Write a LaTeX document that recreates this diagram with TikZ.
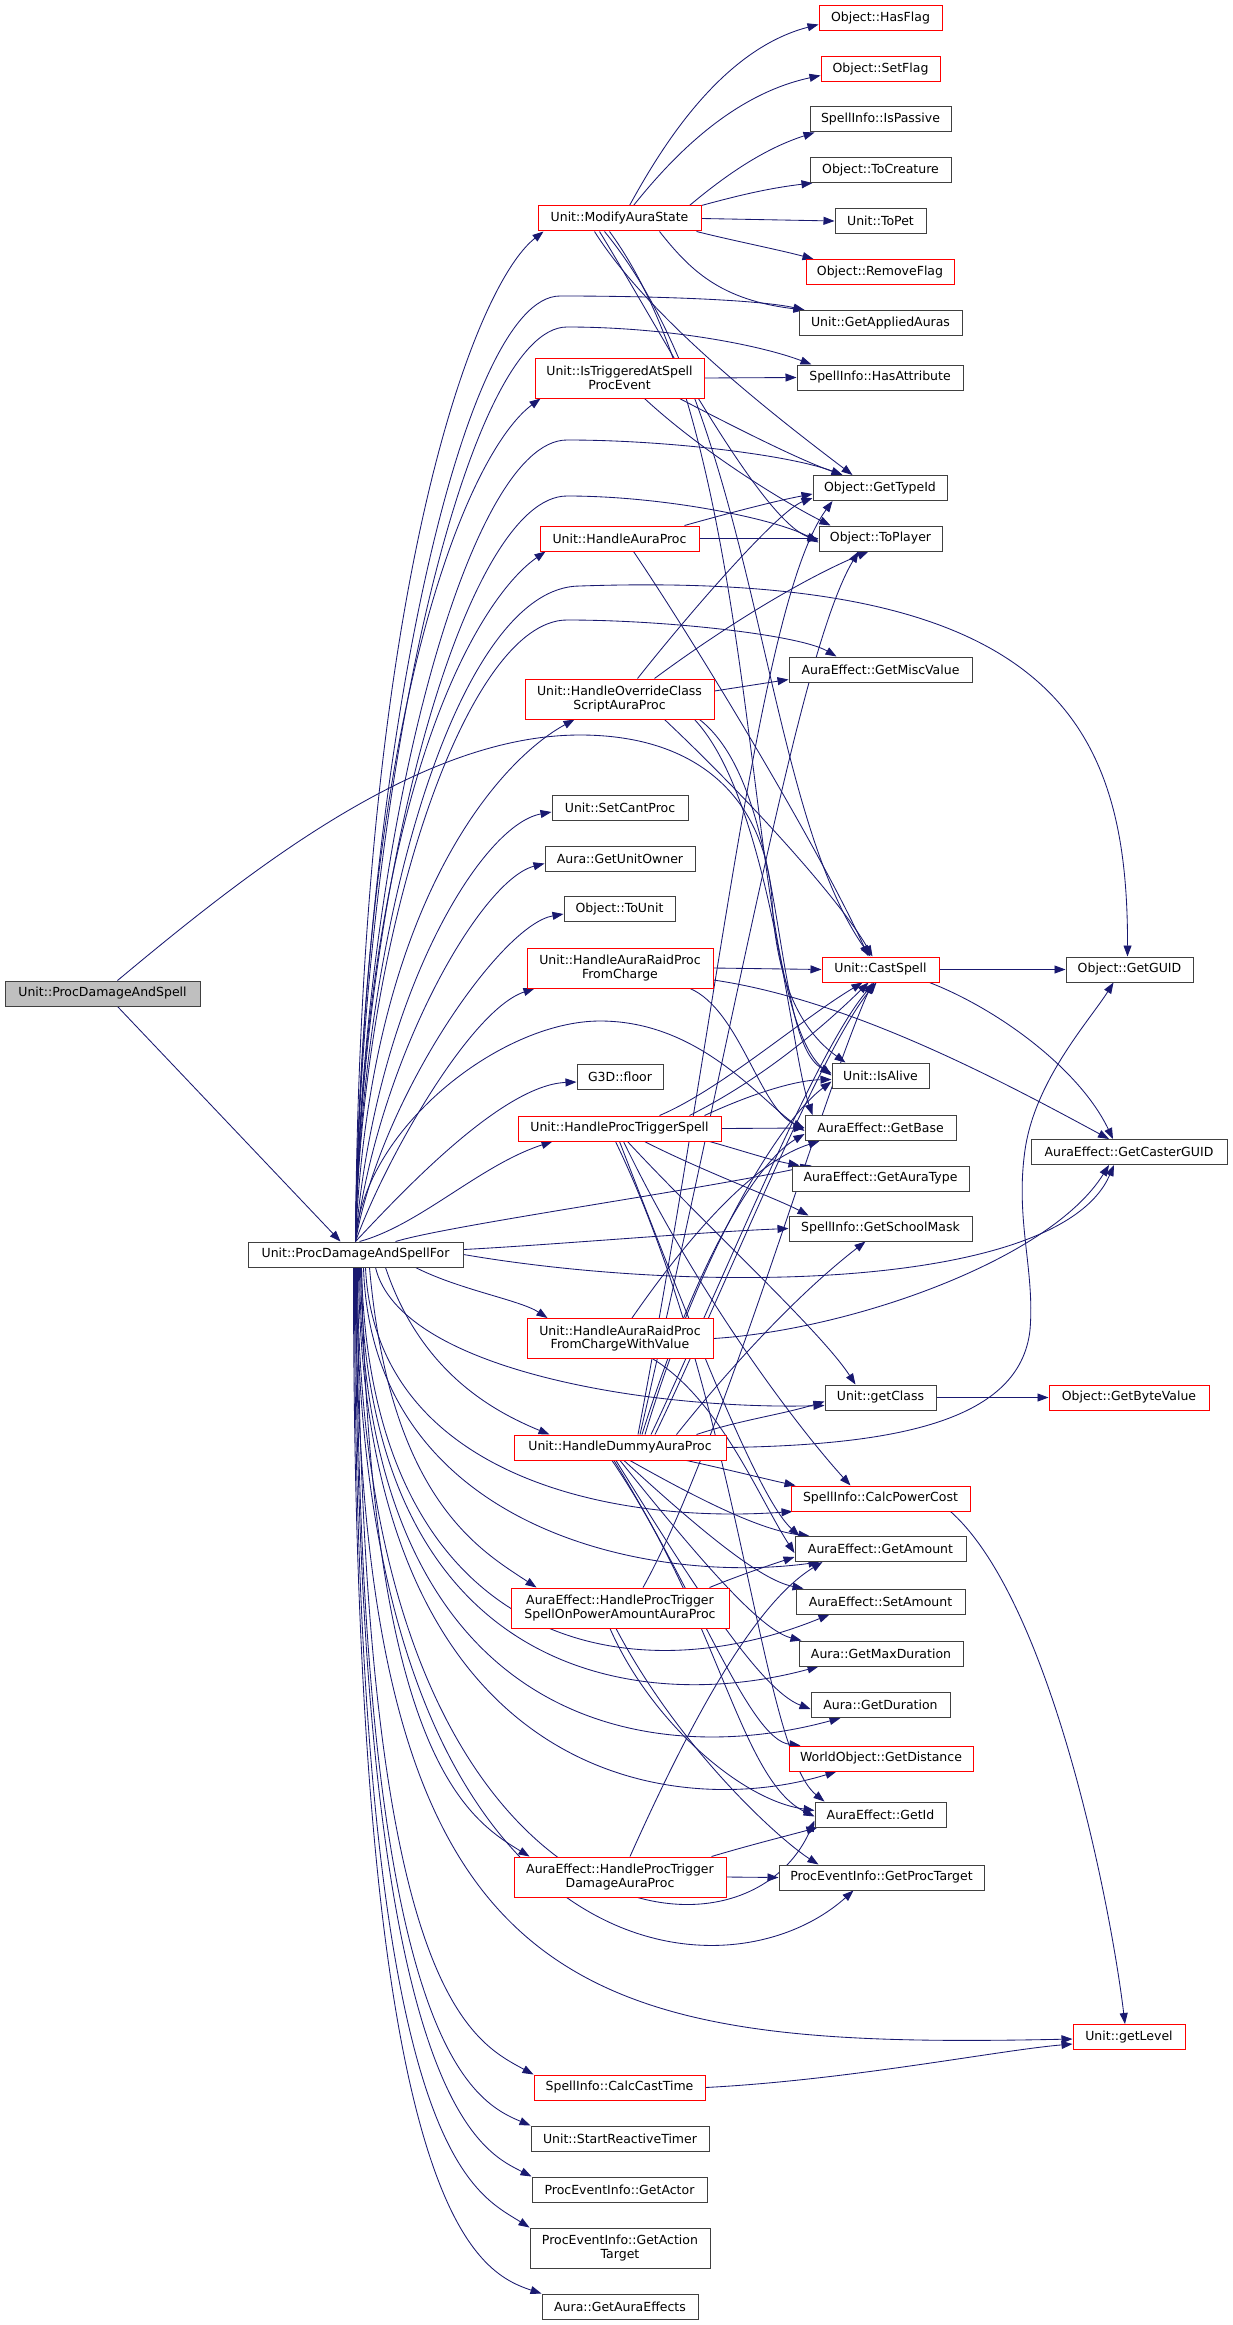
\documentclass[tikz,border=0pt]{standalone}
\usepackage{fontspec}
\setmainfont{DejaVu Sans}
\usetikzlibrary{arrows.meta}
\definecolor{mb}{HTML}{191970}
\definecolor{bd}{HTML}{404040}
\definecolor{rootfill}{HTML}{BFBFBF}
\newcommand\nodefnt{\fontsize{12.5}{13.8}\selectfont}
\pgfdeclarelayer{bglayer}
\pgfdeclarelayer{edgelayer}
\pgfsetlayers{bglayer,edgelayer,main}
\tikzset{
  fn/.style={draw=bd, line width=1pt, fill=white, inner sep=0pt, align=center, font=\nodefnt},
  rfn/.style={fn, draw=red},
  sz/.style 2 args={minimum width=#1pt, minimum height=#2pt},
  edge/.style={draw=mb, line width=0.85pt, -{Triangle[length=11pt,width=8pt]}},
}
\begin{document}
\begin{tikzpicture}[x=1pt,y=-1pt]
\begin{pgfonlayer}{bglayer}
\fill[white] (0,0) rectangle (1232,2325);
\end{pgfonlayer}
\useasboundingbox (0,0) rectangle (1232,2325);
% nodes
\node[fn, fill=rootfill, sz={195}{25}] (R) at (102.5,993.5) {Unit::ProcDamageAndSpell};
\node[fn, sz={215}{25}] (F) at (355.5,1254.5) {Unit::ProcDamageAndSpellFor};
% middle column
\node[rfn, sz={163}{25}] (MAS) at (619.5,218.5) {Unit::ModifyAuraState};
\node[rfn, sz={169}{40}] (IT) at (619.5,378) {Unit::IsTriggeredAtSpell\\ProcEvent};
\node[rfn, sz={159}{25}] (HAP) at (619.5,538.5) {Unit::HandleAuraProc};
\node[rfn, sz={189}{40}] (HOC) at (619.5,699) {Unit::HandleOverrideClass\\ScriptAuraProc};
\node[fn, sz={136}{25}] (SCP) at (620,808) {Unit::SetCantProc};
\node[fn, sz={150}{25}] (GUO) at (620,858.5) {Aura::GetUnitOwner};
\node[fn, sz={111}{25}] (TU) at (619.5,909) {Object::ToUnit};
\node[rfn, sz={186}{40}] (HARPC) at (620,968) {Unit::HandleAuraRaidProc\\FromCharge};
\node[fn, sz={86}{25}] (FL) at (620,1077) {G3D::floor};
\node[rfn, sz={203}{25}] (HPTS) at (619.5,1128.5) {Unit::HandleProcTriggerSpell};
\node[rfn, sz={186}{40}] (HARPW) at (620,1338.5) {Unit::HandleAuraRaidProc\\FromChargeWithValue};
\node[rfn, sz={212}{25}] (HDAP) at (620,1447.5) {Unit::HandleDummyAuraProc};
\node[rfn, sz={218}{40}] (HPOW) at (620,1608) {AuraEffect::HandleProcTrigger\\SpellOnPowerAmountAuraProc};
\node[rfn, sz={212}{40}] (HPTD) at (620,1877) {AuraEffect::HandleProcTrigger\\DamageAuraProc};
\node[rfn, sz={171}{25}] (CCT) at (619.5,2087.5) {SpellInfo::CalcCastTime};
\node[fn, sz={178}{25}] (SRT) at (620,2138.5) {Unit::StartReactiveTimer};
\node[fn, sz={175}{25}] (GA) at (619.5,2189.5) {ProcEventInfo::GetActor};
\node[fn, sz={180}{40}] (GAT) at (620,2248) {ProcEventInfo::GetAction\\Target};
\node[fn, sz={156}{25}] (GAE) at (620,2306.5) {Aura::GetAuraEffects};
% right column
\node[rfn, sz={123}{25}] (HF) at (880.5,18.5) {Object::HasFlag};
\node[rfn, sz={119}{25}] (SF) at (880.5,69.5) {Object::SetFlag};
\node[fn, sz={141}{25}] (IP) at (880.5,119.5) {SpellInfo::IsPassive};
\node[fn, sz={141}{25}] (TC) at (880.5,170) {Object::ToCreature};
\node[fn, sz={91}{25}] (TP) at (880.5,221) {Unit::ToPet};
\node[rfn, sz={148}{25}] (RF) at (880,272) {Object::RemoveFlag};
\node[fn, sz={163}{25}] (GAA) at (880.5,323) {Unit::GetAppliedAuras};
\node[fn, sz={166}{25}] (HA) at (880,377.5) {SpellInfo::HasAttribute};
\node[fn, sz={134}{25}] (GTI) at (880,488) {Object::GetTypeId};
\node[fn, sz={123}{25}] (TPL) at (880.5,538.5) {Object::ToPlayer};
\node[fn, sz={183}{25}] (GMV) at (880.5,669.5) {AuraEffect::GetMiscValue};
\node[rfn, sz={117}{25}] (CS) at (880.5,969.5) {Unit::CastSpell};
\node[fn, sz={97}{25}] (IA) at (880.5,1075.5) {Unit::IsAlive};
\node[fn, sz={151}{25}] (GB) at (880.5,1128) {AuraEffect::GetBase};
\node[fn, sz={177}{25}] (GAT2) at (880.5,1178.5) {AuraEffect::GetAuraType};
\node[fn, sz={183}{25}] (GSM) at (880.5,1228.5) {SpellInfo::GetSchoolMask};
\node[fn, sz={111}{25}] (GC) at (880.5,1397.5) {Unit::getClass};
\node[rfn, sz={179}{25}] (CPC) at (880.5,1498.5) {SpellInfo::CalcPowerCost};
\node[fn, sz={171}{25}] (GAm) at (880.5,1549) {AuraEffect::GetAmount};
\node[fn, sz={169}{25}] (SAm) at (880.5,1601.5) {AuraEffect::SetAmount};
\node[fn, sz={164}{25}] (GMD) at (881,1653.5) {Aura::GetMaxDuration};
\node[fn, sz={139}{25}] (GD) at (880.5,1705) {Aura::GetDuration};
\node[rfn, sz={184}{25}] (GDi) at (881,1758.5) {WorldObject::GetDistance};
\node[fn, sz={131}{25}] (GI) at (880.5,1814.5) {AuraEffect::GetId};
\node[fn, sz={205}{25}] (GPT) at (881.5,1877.5) {ProcEventInfo::GetProcTarget};
% far right
\node[fn, sz={127}{25}] (GG) at (1129.5,969.5) {Object::GetGUID};
\node[fn, sz={196}{25}] (GCG) at (1129,1152) {AuraEffect::GetCasterGUID};
\node[rfn, sz={160}{25}] (GBV) at (1129,1397.5) {Object::GetByteValue};
\node[rfn, sz={112}{25}] (GL) at (1129,2037) {Unit::getLevel};

\begin{pgfonlayer}{edgelayer}
% root
\draw[edge] ([xshift=15pt]R.south) -- ([xshift=-15pt]F.north);
\draw[edge] ([xshift=15pt]R.north) .. controls (250,870) and (420,735) .. (580,735) .. controls (700,735) and (765,800) .. (772,900) .. controls (776,980) and (800,1030) .. ([xshift=14pt]IA.north west);
% F upward to middle column
\draw[edge] (F.north) .. controls (360,585) and (474,286) .. ([xshift=6pt]MAS.south west);
\draw[edge] (F.north) .. controls (362,693) and (471,450) .. ([xshift=6pt]IT.south west);
\draw[edge] (F.north) .. controls (364,793) and (476,600) .. ([xshift=6pt]HAP.south west);
\draw[edge] (F.north) .. controls (370,902) and (500,760) .. ([xshift=50pt]HOC.south west);
\draw[edge] (F.north) .. controls (375,1000) and (480,825) .. ([yshift=-4pt]SCP.west);
\draw[edge] (F.north) .. controls (378,1060) and (480,880) .. ([yshift=-5pt]GUO.west);
\draw[edge] (F.north) .. controls (380,1100) and (500,925) .. ([yshift=-5pt]TU.west);
\draw[edge] (F.north) .. controls (385,1160) and (470,1010) .. ([xshift=8pt]HARPC.south west);
\draw[edge] (F.north) .. controls (395,1200) and (500,1085) .. ([yshift=-5pt]FL.west);
\draw[edge] ([xshift=4pt]F.north) .. controls (420,1225) and (480,1165) .. ([xshift=35pt]HPTS.south west);
% F upward to right column (humps)
\draw[edge] (F.north) .. controls (361,770) and (460,296) .. (560,296) .. controls (660,296) and (760,300) .. ([xshift=6pt]GAA.north west);
\draw[edge] (F.north) .. controls (361,785) and (467,327) .. (567,327) .. controls (667,327) and (760,345) .. ([xshift=15pt]HA.north west);
\draw[edge] (F.north) .. controls (362,840) and (467,440) .. (567,440) .. controls (667,440) and (790,455) .. ([xshift=30pt]GTI.north west);
\draw[edge] (F.north) .. controls (362,870) and (467,496) .. (567,496) .. controls (667,496) and (780,520) .. ([yshift=-4pt]TPL.west);
\draw[edge] (F.north) .. controls (362,914) and (460,586) .. (580,586) .. controls (1050,570) and (1128,720) .. ([xshift=-2pt]GG.north);
\draw[edge] (F.north) .. controls (362,930) and (467,620) .. (567,620) .. controls (667,620) and (800,635) .. ([xshift=48pt]GMV.north west);
\draw[edge] (F.north) .. controls (362,1130) and (500,1021) .. (600,1021) .. controls (700,1021) and (760,1100) .. ([yshift=-3pt]GB.west);
\draw[edge] ([xshift=40pt]F.north) .. controls (450,1225) and (700,1190) .. ([xshift=20pt]GAT2.north west);
\draw[edge] ([yshift=5pt]F.east) .. controls (550,1245) and (700,1232) .. (GSM.west);
\draw[edge] (F.east) .. controls (700,1295) and (1060,1290) .. ([xshift=-15pt]GCG.south);
% F downward
\draw[edge] ([xshift=60pt]F.south) .. controls (460,1290) and (520,1300) .. ([xshift=21pt]HARPW.north west);
\draw[edge] ([xshift=20pt]F.south) .. controls (400,1370) and (650,1410) .. ([yshift=-8pt]GC.west);
\draw[edge] ([xshift=30pt]F.south) .. controls (420,1370) and (490,1410) .. ([xshift=36pt]HDAP.north west);
\draw[edge] ([xshift=10pt]F.south) .. controls (375,1470) and (600,1525) .. ([xshift=2pt]CPC.south west);
\draw[edge] ([xshift=8pt]F.south) .. controls (372,1530) and (650,1585) .. ([xshift=25pt]GAm.south west);
\draw[edge] ([xshift=14pt]F.south) .. controls (390,1500) and (480,1550) .. ([xshift=26pt]HPOW.north west);
\draw[edge] ([xshift=6pt]F.south) .. controls (370,1640) and (620,1700) .. ([xshift=34pt]SAm.south west);
\draw[edge] ([xshift=5pt]F.south) .. controls (365,1680) and (640,1715) .. ([xshift=20pt]GMD.south west);
\draw[edge] ([xshift=4pt]F.south) .. controls (363,1730) and (650,1770) .. ([xshift=30pt]GD.south west);
\draw[edge] ([xshift=3pt]F.south) .. controls (362,1790) and (680,1820) .. ([xshift=48pt]GDi.south west);
\draw[edge] ([xshift=6pt]F.south) .. controls (370,1760) and (470,1820) .. ([xshift=16pt]HPTD.north west);
\draw[edge] ([xshift=2pt]F.south) .. controls (358,1930) and (740,1990) .. ([yshift=-6pt]GI.west);
\draw[edge] ([xshift=1pt]F.south) .. controls (357,1970) and (720,2010) .. ([xshift=-28pt]GPT.south);
\draw[edge] (F.south) .. controls (357,2000) and (560,2050) .. ([yshift=-2pt]GL.west);
\draw[edge] ([xshift=2pt]F.south) .. controls (360,1990) and (470,2040) .. (CCT.north west);
\draw[edge] ([xshift=1pt]F.south) .. controls (356,2040) and (470,2100) .. (SRT.north west);
\draw[edge] (F.south) .. controls (355,2100) and (480,2150) .. (GA.north west);
\draw[edge] ([xshift=-1pt]F.south) .. controls (354,2150) and (470,2190) .. (GAT.north west);
\draw[edge] ([xshift=-2pt]F.south) .. controls (353,2200) and (470,2270) .. (GAE.north west);
% ModifyAuraState
\draw[edge] ([xshift=10pt]MAS.north) .. controls (660,150) and (720,50) .. ([yshift=-6pt]HF.west);
\draw[edge] ([xshift=14pt]MAS.north) .. controls (670,160) and (730,95) .. ([yshift=-6pt]SF.west);
\draw[edge] ([xshift=70pt]MAS.north) .. controls (720,180) and (760,150) .. ([xshift=5pt]IP.south west);
\draw[edge] (MAS.north east) .. controls (740,195) and (770,188) .. ([xshift=3pt]TC.south west);
\draw[edge] (MAS.east) -- (TP.west);
\draw[edge] ([xshift=-5pt]MAS.south east) .. controls (730,240) and (780,250) .. ([xshift=8pt]RF.north west);
\draw[edge] ([xshift=40pt]MAS.south) .. controls (690,270) and (720,300) .. ([xshift=6pt]GAA.north west);
\draw[edge] ([xshift=-25pt]MAS.south) .. controls (650,320) and (780,420) .. ([xshift=40pt]GTI.north west);
\draw[edge] ([xshift=-20pt]MAS.south) .. controls (660,330) and (760,520) .. ([yshift=-2pt]TPL.west);
\draw[edge] ([xshift=-15pt]MAS.south) .. controls (760,420) and (760,800) .. ([xshift=-10pt]CS.north);
\draw[edge] ([xshift=-10pt]MAS.south) .. controls (770,450) and (740,1000) .. (IA.west);
% IsTriggered
\draw[edge] (IT.east) -- (HA.west);
\draw[edge] ([xshift=60pt]IT.south) .. controls (740,430) and (800,460) .. ([xshift=30pt]GTI.north west);
\draw[edge] ([xshift=25pt]IT.south) .. controls (700,450) and (780,500) .. ([xshift=12pt]TPL.north west);
% HandleAuraProc
\draw[edge] (HAP.east) -- (TPL.west);
\draw[edge] ([xshift=65pt]HAP.north) .. controls (740,510) and (780,500) .. ([yshift=-6pt]GTI.west);
\draw[edge] ([xshift=14pt]HAP.south) .. controls (700,650) and (820,850) .. ([xshift=-12pt]CS.north);
% HandleOverrideClass
\draw[edge] ([yshift=8pt]HOC.east) -- ([yshift=-10pt]GMV.west);
\draw[edge] ([xshift=18pt]HOC.north) .. controls (700,600) and (780,510) .. ([yshift=-10pt]GTI.west);
\draw[edge] ([xshift=35pt]HOC.north) .. controls (720,630) and (800,580) .. ([xshift=50pt]TPL.south west);
\draw[edge] ([xshift=-50pt]HOC.south east) .. controls (750,800) and (840,900) .. ([xshift=-8pt]CS.north);
\draw[edge] ([xshift=-20pt]HOC.south east) .. controls (770,800) and (790,1050) .. ([xshift=8pt]GB.north west);
\draw[edge] ([xshift=-15pt]HOC.south east) .. controls (790,790) and (770,1040) .. ([yshift=2pt]IA.west);
% HandleAuraRaidProcFromCharge
\draw[edge] (HARPC.east) -- (CS.west);
\draw[edge] ([yshift=-12pt]HARPC.east) .. controls (850,1000) and (1000,1080) .. ([xshift=-20pt]GCG.north);
\draw[edge] ([xshift=70pt]HARPC.south) .. controls (740,1010) and (760,1110) .. (GB.west);
% HandleProcTriggerSpell
\draw[edge] ([xshift=40pt]HPTS.north) .. controls (720,1090) and (800,1020) .. ([xshift=-18pt]CS.south);
\draw[edge] ([xshift=70pt]HPTS.north) .. controls (760,1080) and (820,1030) .. ([xshift=-12pt]CS.south);
\draw[edge] ([xshift=85pt]HPTS.north) .. controls (760,1090) and (800,1080) .. ([yshift=-4pt]IA.west);
\draw[edge] (HPTS.east) -- (GB.west);
\draw[edge] ([xshift=-12pt]HPTS.south east) .. controls (740,1150) and (770,1160) .. ([xshift=8pt]GAT2.north west);
\draw[edge] ([xshift=25pt]HPTS.south) .. controls (700,1170) and (780,1200) .. ([xshift=20pt]GSM.north west);
\draw[edge] ([xshift=8pt]HPTS.south) .. controls (700,1220) and (820,1330) .. ([xshift=-25pt]GC.north);
\draw[edge] ([xshift=4pt]HPTS.south) .. controls (700,1300) and (800,1430) .. ([xshift=-30pt]CPC.north);
\draw[edge] (HPTS.south) .. controls (700,1350) and (760,1500) .. ([xshift=5pt]GAm.north west);
\draw[edge] ([xshift=-4pt]HPTS.south) .. controls (740,1400) and (760,1750) .. ([xshift=10pt]GI.north west);
% HandleAuraRaidProcFromChargeWithValue
\draw[edge] (HARPW.east) .. controls (850,1330) and (1050,1260) .. ([xshift=-20pt]GCG.south);
\draw[edge] ([xshift=12pt]HARPW.north) .. controls (700,1220) and (760,1160) .. ([xshift=15pt]GB.south west);
\draw[edge] ([xshift=33pt]HARPW.south) .. controls (720,1400) and (760,1500) .. ([yshift=-4pt]GAm.west);
% HandleDummyAuraProc
\draw[edge] ([xshift=35pt]HDAP.north) .. controls (720,1300) and (820,1050) .. ([xshift=-4pt]CS.south);
\draw[edge] ([xshift=31pt]HDAP.north) .. controls (715,1300) and (815,1050) .. ([xshift=-6pt]CS.south);
\draw[edge] ([xshift=25pt]HDAP.north) .. controls (700,1250) and (780,1120) .. ([yshift=-6pt]IA.west);
\draw[edge] ([xshift=22pt]HDAP.north) .. controls (700,1250) and (760,1160) .. ([yshift=-6pt]GB.west);
\draw[edge] ([xshift=18pt]HDAP.north) .. controls (720,1000) and (760,600) .. ([xshift=20pt]GTI.south west);
\draw[edge] ([xshift=20pt]HDAP.north) .. controls (740,1000) and (800,650) .. ([xshift=40pt]TPL.south west);
\draw[edge] ([xshift=-50pt]HDAP.north east) .. controls (720,1380) and (790,1300) .. ([xshift=-15pt]GSM.south);
\draw[edge] ([xshift=-30pt]HDAP.north east) .. controls (740,1420) and (780,1415) .. ([yshift=-4pt]GC.west);
\draw[edge] ([xshift=-40pt]HDAP.south east) .. controls (730,1470) and (770,1480) .. ([xshift=5pt]CPC.north west);
\draw[edge] ([xshift=10pt]HDAP.south) .. controls (700,1500) and (760,1530) .. ([xshift=15pt]GAm.north west);
\draw[edge] ([xshift=4pt]HDAP.south) .. controls (700,1530) and (760,1580) .. ([xshift=8pt]SAm.north west);
\draw[edge] (HDAP.south) .. controls (700,1560) and (760,1630) .. ([xshift=3pt]GMD.north west);
\draw[edge] ([xshift=-4pt]HDAP.south) .. controls (690,1580) and (760,1690) .. ([yshift=-4pt]GD.west);
\draw[edge] ([xshift=-6pt]HDAP.south) .. controls (700,1600) and (750,1740) .. ([xshift=12pt]GDi.north west);
\draw[edge] ([xshift=-8pt]HDAP.south) .. controls (720,1620) and (740,1780) .. ([yshift=-2pt]GI.west);
\draw[edge] (HDAP.east) .. controls (900,1445) and (1020,1420) .. (1030,1330) .. controls (1035,1270) and (1015,1220) .. (1025,1150) .. controls (1035,1080) and (1090,1020) .. ([xshift=-16pt]GG.south);
% HandleProcTriggerSpellOnPowerAmountAuraProc
\draw[edge] ([xshift=23pt]HPOW.north) .. controls (720,1450) and (820,1100) .. ([xshift=-8pt]CS.south);
\draw[edge] ([xshift=-20pt]HPOW.north east) .. controls (740,1575) and (770,1565) .. ([yshift=-8pt]GAm.west);
\draw[edge] ([xshift=-10pt]HPOW.south) .. controls (650,1720) and (740,1800) .. ([yshift=4pt]GI.west);
\draw[edge] ([xshift=-4pt]HPOW.south) .. controls (680,1750) and (780,1840) .. ([xshift=40pt]GPT.north west);
% HandleProcTriggerDamageAuraProc
\draw[edge] (HPTD.east) -- (GPT.west);
\draw[edge] ([xshift=-15pt]HPTD.north east) .. controls (750,1845) and (790,1835) .. ([xshift=3pt]GI.south west);
\draw[edge] ([xshift=10pt]HPTD.north) .. controls (700,1700) and (760,1600) .. ([xshift=28pt]GAm.south west);
% others
\draw[edge] (CCT.east) .. controls (850,2080) and (1000,2050) .. ([yshift=-7pt]GL.west);
\draw[edge] ([xshift=-20pt]CPC.south east) .. controls (1050,1600) and (1110,1900) .. ([xshift=-4pt]GL.north);
\draw[edge] (CS.east) -- (GG.west);
\draw[edge] ([xshift=-10pt]CS.south east) .. controls (1000,1010) and (1080,1070) .. ([xshift=-16pt]GCG.north);
\draw[edge] (GC.east) -- (GBV.west);
\end{pgfonlayer}
\end{tikzpicture}
\end{document}
